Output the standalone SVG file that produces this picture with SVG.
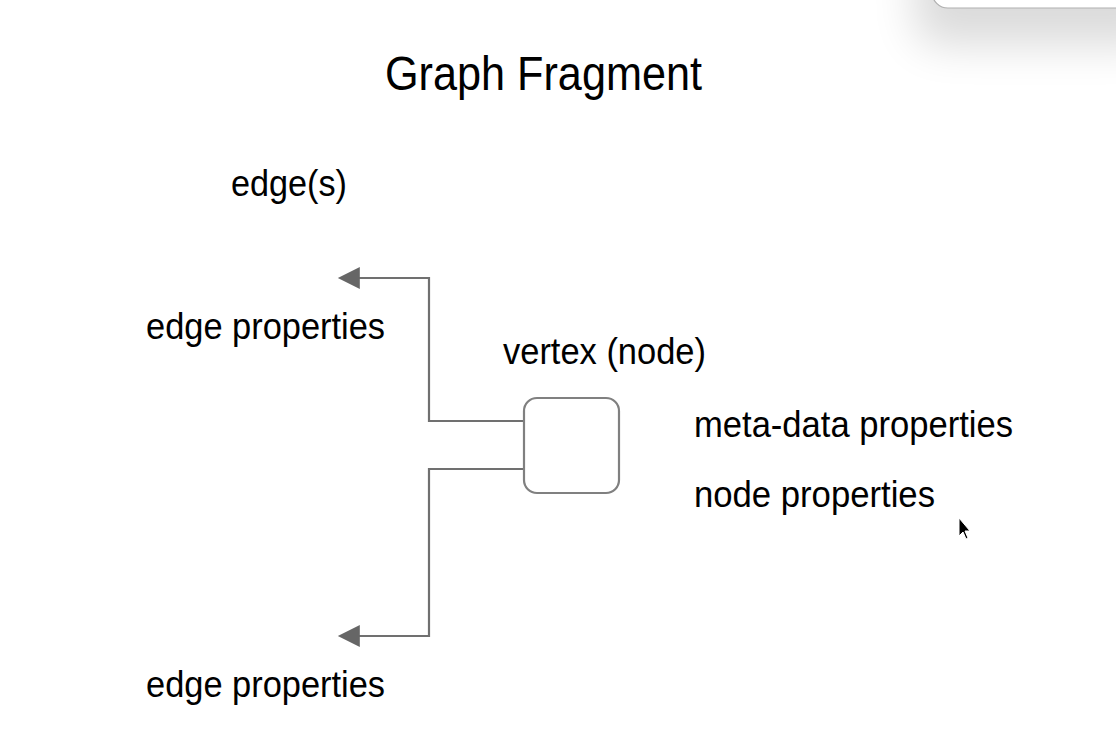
<svg xmlns="http://www.w3.org/2000/svg" width="1116" height="738" viewBox="0 0 1116 738">
  <defs>
    <style>
      .t { font-family: "Liberation Sans", Arial, Helvetica, sans-serif; fill: #000; }
      .conn { fill: none; stroke: #707070; stroke-width: 2.2; }
      .node { fill: #fff; stroke: #808080; stroke-width: 2.2; }
    </style>
    <marker id="arrow" viewBox="0 0 10 10" refX="9" refY="5" markerWidth="26" markerHeight="22" markerUnits="userSpaceOnUse" orient="auto">
      <path d="M0,0 L10,5 L0,10 z" fill="#666"/>
    </marker>
    <filter id="shadow" x="-30%" y="-100%" width="160%" height="600%">
      <feGaussianBlur stdDeviation="22"/>
    </filter>
  </defs>
  <rect width="1116" height="738" fill="#fff"/>

  <!-- popup fragment at top right -->
  <g id="popup">
    <rect x="915" y="-60" width="250" height="105" rx="24" fill="#000" opacity="0.14" filter="url(#shadow)"/>
    <rect x="932" y="-40" width="200" height="48" rx="16" fill="#fff" stroke="#b0b0b0" stroke-width="1.2"/>
  </g>

  <g id="title">
    <text class="t" x="385" y="90" font-size="49" textLength="317" lengthAdjust="spacingAndGlyphs">Graph Fragment</text>
  </g>

  <g id="edges-label">
    <text class="t" x="231" y="196" font-size="37" textLength="116" lengthAdjust="spacingAndGlyphs">edge(s)</text>
  </g>

  <g id="connectors">
    <path class="conn" d="M524,421 H429 V278 H340" marker-end="url(#arrow)"/>
    <path class="conn" d="M524,469 H429 V636 H340" marker-end="url(#arrow)"/>
  </g>

  <g id="edge-props-top">
    <text class="t" x="146" y="339" font-size="37" textLength="239" lengthAdjust="spacingAndGlyphs">edge properties</text>
  </g>

  <g id="vertex">
    <rect class="node" x="524" y="398" width="95" height="95" rx="13"/>
    <text class="t" x="503" y="364" font-size="37" textLength="203" lengthAdjust="spacingAndGlyphs">vertex (node)</text>
  </g>

  <g id="meta-props">
    <text class="t" x="694" y="437" font-size="37" textLength="319" lengthAdjust="spacingAndGlyphs">meta-data properties</text>
  </g>

  <g id="node-props">
    <text class="t" x="694" y="507" font-size="37" textLength="241" lengthAdjust="spacingAndGlyphs">node properties</text>
  </g>

  <g id="edge-props-bottom">
    <text class="t" x="146" y="697" font-size="37" textLength="239" lengthAdjust="spacingAndGlyphs">edge properties</text>
  </g>

  <!-- mouse cursor -->
  <g id="cursor">
    <path d="M959,518 L959,536 L963,532 L966,539 L968,538 L965,531 L970,531 Z" fill="#000" stroke="#fff" stroke-width="1"/>
  </g>
</svg>
